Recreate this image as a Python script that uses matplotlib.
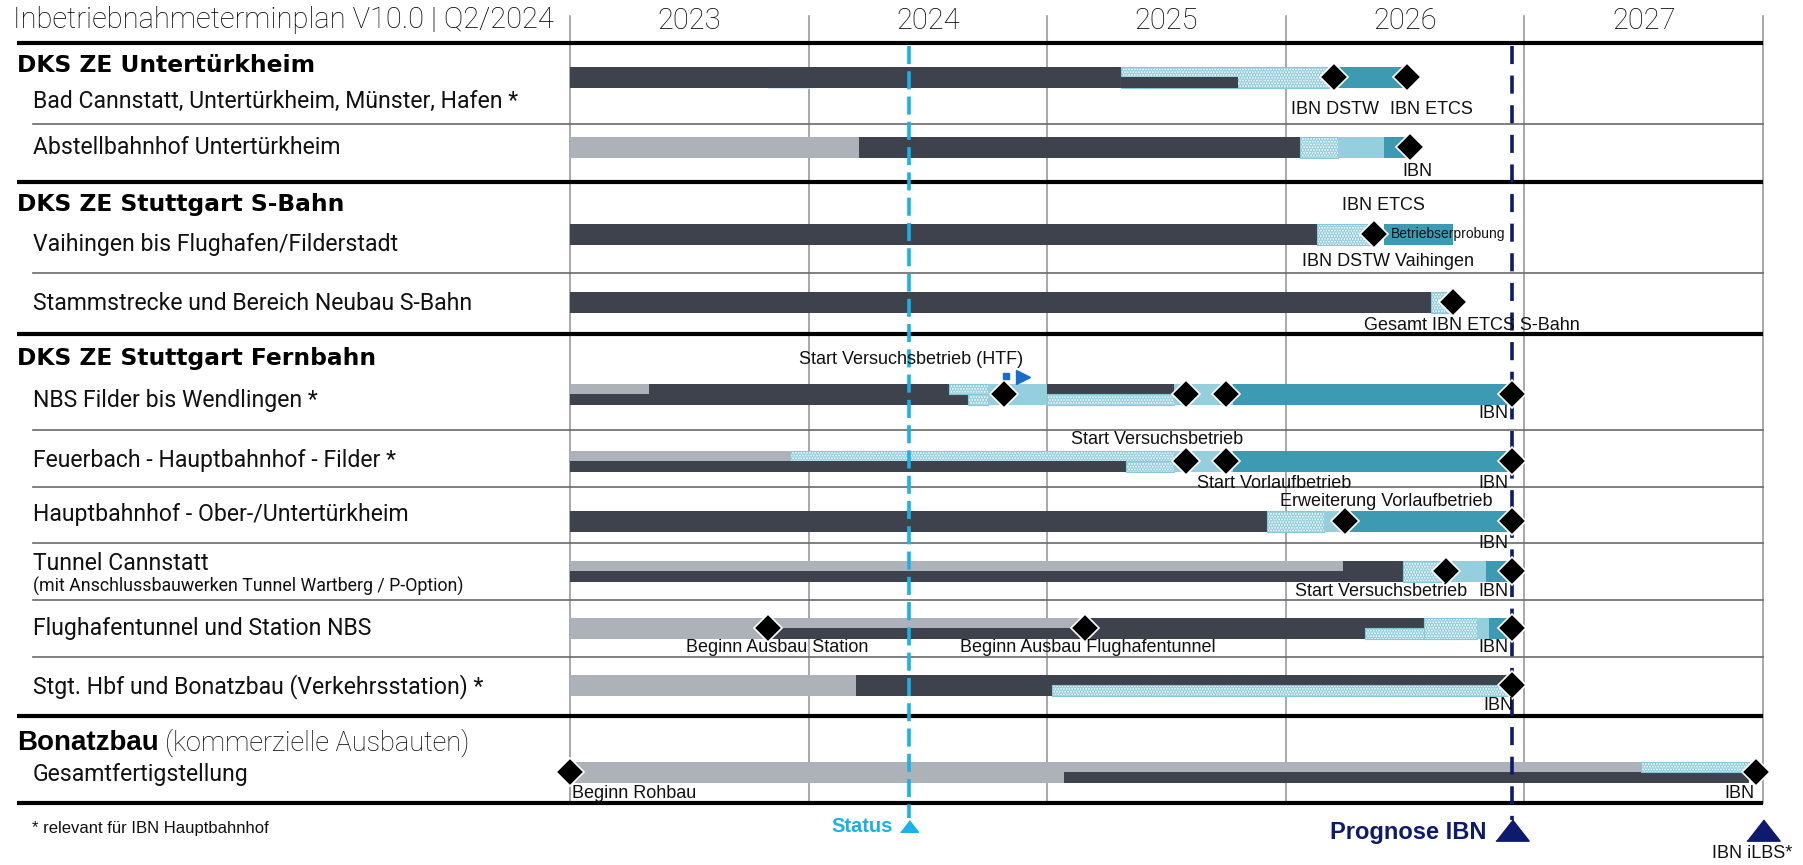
# Inbetriebnahmeterminplan V10.0 | Q2/2024 - Gantt-style chart
import matplotlib
matplotlib.use("Agg")
import matplotlib.pyplot as plt

# ---- data (years as decimal) ----
years = [2023, 2024, 2025, 2026, 2027]
status_date = 2024.42
prognose_ibn = 2026.95
ibn_ilbs = 2028.0

headers = ["DKS ZE Untertürkheim", "DKS ZE Stuttgart S-Bahn",
           "DKS ZE Stuttgart Fernbahn", "Bonatzbau"]

row_labels = [
    "Bad Cannstatt, Untertürkheim, Münster, Hafen *",
    "Abstellbahnhof Untertürkheim",
    "Vaihingen bis Flughafen/Filderstadt",
    "Stammstrecke und Bereich Neubau S-Bahn",
    "NBS Filder bis Wendlingen *",
    "Feuerbach - Hauptbahnhof - Filder *",
    "Hauptbahnhof - Ober-/Untertürkheim",
    "Tunnel Cannstatt",
    "Flughafentunnel und Station NBS",
    "Stgt. Hbf und Bonatzbau (Verkehrsstation) *",
    "Gesamtfertigstellung",
]

# phase segments per row: (kind, start, end, track)
phases = [
    [("dark", 2023.00, 2025.31, "full"), ("dots", 2025.31, 2026.18, "full"),
     ("dark", 2025.31, 2025.80, "lower"), ("teal", 2026.18, 2026.51, "full")],
    [("gray", 2023.00, 2024.21, "full"), ("dark", 2024.21, 2026.06, "full"),
     ("dots", 2026.06, 2026.22, "full"), ("light", 2026.22, 2026.41, "full"),
     ("teal", 2026.41, 2026.52, "full")],
    [("dark", 2023.00, 2026.13, "full"), ("dots", 2026.13, 2026.37, "full"),
     ("teal", 2026.41, 2026.70, "full")],
    [("dark", 2023.00, 2026.61, "full"), ("dots", 2026.61, 2026.70, "full")],
    [("gray", 2023.00, 2023.33, "upper"), ("dark", 2023.33, 2024.59, "upper"),
     ("dark", 2023.00, 2024.67, "lower"), ("dots", 2024.59, 2024.75, "upper"),
     ("dots", 2024.67, 2024.75, "lower"), ("light", 2024.75, 2025.00, "full"),
     ("dark", 2025.00, 2025.53, "upper"), ("dots", 2025.00, 2025.53, "lower"),
     ("light", 2025.53, 2025.78, "full"), ("teal", 2025.78, 2026.94, "full")],
    [("gray", 2023.00, 2023.92, "upper"), ("dots", 2023.92, 2025.53, "upper"),
     ("dark", 2023.00, 2025.33, "lower"), ("dots", 2025.33, 2025.53, "lower"),
     ("light", 2025.53, 2025.78, "full"), ("teal", 2025.78, 2026.94, "full")],
    [("dark", 2023.00, 2025.92, "full"), ("dots", 2025.92, 2026.16, "full"),
     ("light", 2026.16, 2026.27, "full"), ("teal", 2026.27, 2026.94, "full")],
    [("gray", 2023.00, 2026.24, "upper"), ("dark", 2026.24, 2026.49, "upper"),
     ("dark", 2023.00, 2026.49, "lower"), ("dots", 2026.49, 2026.65, "full"),
     ("light", 2026.65, 2026.84, "full"), ("teal", 2026.84, 2026.94, "full")],
    [("gray", 2023.00, 2025.16, "upper"), ("gray", 2023.00, 2023.83, "lower"),
     ("dark", 2023.83, 2025.16, "lower"), ("dark", 2025.16, 2026.58, "upper"),
     ("dark", 2025.16, 2026.33, "lower"), ("dots", 2026.33, 2026.74, "lower"),
     ("dots", 2026.58, 2026.80, "full"), ("light", 2026.80, 2026.85, "full"),
     ("teal", 2026.85, 2026.94, "full")],
    [("gray", 2023.00, 2024.20, "full"), ("dark", 2024.20, 2025.02, "full"),
     ("dark", 2025.02, 2026.94, "upper"), ("dots", 2025.02, 2026.94, "lower")],
    [("gray", 2023.00, 2027.49, "upper"), ("gray", 2023.00, 2025.07, "lower"),
     ("dark", 2025.07, 2027.94, "lower"), ("dots", 2027.49, 2027.94, "upper")],
]

milestones = [
    [2026.20, 2026.51],
    [2026.52],
    [2026.37],
    [2026.70],
    [2024.82, 2025.58, 2025.75, 2026.95],
    [2025.58, 2025.75, 2026.95],
    [2026.25, 2026.95],
    [2026.67, 2026.95],
    [2023.83, 2025.16, 2026.95],
    [2026.95],
    [2023.00, 2027.97],
]

# milestone labels: (row, x, text, vertical offset from bar in px)
ms_labels = [
    (0, 2026.205, "IBN DSTW", 32), (0, 2026.61, "IBN ETCS", 32),
    (1, 2026.55, "IBN", 25),
    (2, 2026.41, "IBN ETCS", -28), (2, 2026.43, "IBN DSTW Vaihingen", 27),
    (3, 2026.78, "Gesamt IBN ETCS S-Bahn", 24),
    (4, 2024.43, "Start Versuchsbetrieb (HTF)", -34), (4, 2026.87, "IBN", 19),
    (5, 2025.46, "Start Versuchsbetrieb", -21), (5, 2025.95, "Start Vorlaufbetrieb", 22),
    (5, 2026.87, "IBN", 22),
    (6, 2026.42, "Erweiterung Vorlaufbetrieb", -19), (6, 2026.87, "IBN", 22),
    (7, 2026.40, "Start Versuchsbetrieb", 20), (7, 2026.87, "IBN", 20),
    (8, 2023.87, "Beginn Ausbau Station", 20),
    (8, 2025.17, "Beginn Ausbau Flughafentunnel", 20),
    (8, 2026.87, "IBN", 20),
    (9, 2026.89, "IBN", 20),
]

# ---- layout (figure pixels) ----
W, H = 1803, 865
X0_PX, PPY = 570, 238.6          # pixel of 2023.0, pixels per year
row_y = [77, 147, 234, 302, 394, 461, 521, 571, 628, 685, 772]
label_y = [101, 147, 245, 304, 400, 461, 514, 563, 628, 687, 774]
header_y = [66, 205, 358, 743]
thick_y = [43, 182, 334, 716, 803]
thin_y = [124, 273, 430, 487, 543, 600, 657]
BAR_H = 21

colors = {"dark": "#3e424c", "gray": "#adb1b8", "light": "#95cedc",
          "teal": "#3c9ab3"}
DOT_EDGE = "#86c7d8"
NAVY = "#0d1a6e"
STATUS = "#19b1e8"
GRID = "#8e9198"
INK = "#111111"

LIGHTF = ["Roboto", "DejaVu Sans"]
SANS = ["Liberation Sans", "DejaVu Sans"]


def xpx(p):
    return 2023 + (p - X0_PX) / PPY


plt.rcParams["hatch.linewidth"] = 1.8

fig = plt.figure(figsize=(W / 100, H / 100), dpi=100)
ax = fig.add_axes([0, 0, 1, 1])
ax.set_xlim(xpx(0), xpx(W))
ax.set_ylim(H, 0)
ax.axis("off")

# year grid lines and labels
for yr in years + [years[-1] + 1]:
    ax.plot([yr, yr], [16, 803], color=GRID, lw=1.1, zorder=1)
for yr in years:
    ax.text(yr + 0.5, 21, str(yr), family=LIGHTF, fontweight="light",
            fontsize=21, ha="center", va="center", color="black")
ax.text(xpx(13), 20, "Inbetriebnahmeterminplan V10.0 | Q2/2024", family=LIGHTF,
        fontweight="light", fontsize=21, ha="left", va="center", color="black")

# separators
for y in thick_y:
    ax.plot([xpx(17), xpx(1763)], [y, y], color="black", lw=3.0, zorder=3,
            solid_capstyle="butt")
for y in thin_y:
    ax.plot([xpx(33), xpx(1763)], [y, y], color="#6a6a6a", lw=1.2, zorder=3)

# headers
for txt, y in zip(headers[:3], header_y[:3]):
    ax.text(xpx(17), y, txt, family="DejaVu Sans", fontweight="bold",
            fontsize=16.8, ha="left", va="center", color="black")
t_b = ax.text(xpx(17), header_y[3], headers[3], family=SANS, fontweight="bold",
              fontsize=20, ha="left", va="center", color="black")
fig.canvas.draw()
bb = t_b.get_window_extent()
ax.text(xpx(bb.x1 + 6), header_y[3], "(kommerzielle Ausbauten)", family=LIGHTF,
        fontweight="light", fontsize=19.5, ha="left", va="center", color="black")

# row labels
for txt, y in zip(row_labels, label_y):
    ax.text(xpx(33), y, txt, family=LIGHTF, fontsize=16.6,
            ha="left", va="center", color=INK)
ax.text(xpx(33), 586, "(mit Anschlussbauwerken Tunnel Wartberg / P-Option)",
        family=LIGHTF, fontsize=12.8, ha="left", va="center", color=INK)

# bars
for yc, segs in zip(row_y, phases):
    for kind, start, end, track in segs:
        if track == "full":
            y, h = yc, BAR_H
        elif track == "upper":
            y, h = yc - BAR_H / 4, BAR_H / 2
        else:
            y, h = yc + BAR_H / 4, BAR_H / 2
        if kind == "dots":
            ax.barh(y, end - start, left=start, height=h, color="white",
                    edgecolor=DOT_EDGE, hatch="......", linewidth=0.8, zorder=4)
        else:
            ax.barh(y, end - start, left=start, height=h, color=colors[kind],
                    linewidth=0, zorder=4)

# faint outline, row 1
ax.barh(row_y[0], 0.17, left=2023.83, height=BAR_H, color="none",
        edgecolor="#d6ecf2", linewidth=0.8, zorder=3.5)

# small text inside teal box (row 3)
ax.text(2026.44, row_y[2], "Betriebserprobung", family=SANS, fontsize=10,
        ha="left", va="center", color=INK, zorder=7)

# start flag (row 5)
ax.plot([2024.827], [376], marker="s", ms=4, color="#1a6ccc", ls="none", zorder=7)
ax.plot([2024.90], [377], marker=">", ms=10, color="#1a6ccc", ls="none", zorder=7)

# status / prognose lines
ax.plot([status_date, status_date], [46, 818], color=STATUS, lw=2.6,
        dashes=(5, 2), zorder=5)
ax.plot([prognose_ibn, prognose_ibn], [46, 820], color=NAVY, lw=2.6,
        dashes=(5, 3.2), zorder=5)

# milestones
for yc, ms in zip(row_y, milestones):
    ax.plot(ms, [yc] * len(ms), marker="D", ms=14, mfc="black", mec="white",
            mew=1.2, ls="none", zorder=6)

# milestone labels
for r, x, txt, off in ms_labels:
    ax.text(x, row_y[r] + off, txt, family=SANS, fontsize=13, ha="center",
            va="center", color=INK, zorder=7)
ax.text(xpx(572), 793, "Beginn Rohbau", family=SANS, fontsize=13, ha="left",
        va="center", color=INK)
ax.text(2027.90, 793, "IBN", family=SANS, fontsize=13, ha="center",
        va="center", color=INK)

# footer
tri = [(-1, -0.64), (1, -0.64), (0, 0.64)]
ax.text(xpx(32), 828, "* relevant für IBN Hauptbahnhof", family=SANS,
        fontsize=12, ha="left", va="center", color=INK)
ax.plot([status_date], [826], marker=tri, ms=13, color=STATUS, ls="none")
ax.text(xpx(893), 827, "Status", family=SANS, fontweight="bold", fontsize=14.5,
        ha="right", va="center", color=STATUS)
ax.plot([prognose_ibn], [830], marker=tri, ms=24, color=NAVY, ls="none")
ax.text(xpx(1487), 832, "Prognose IBN", family=SANS, fontweight="bold",
        fontsize=17, ha="right", va="center", color=NAVY)
ax.plot([ibn_ilbs], [830], marker=tri, ms=24, color=NAVY, ls="none")
ax.text(xpx(1752), 854, "IBN iLBS*", family=SANS, fontsize=13, ha="center",
        va="center", color=INK)

fig.savefig("out.png", dpi=100)
